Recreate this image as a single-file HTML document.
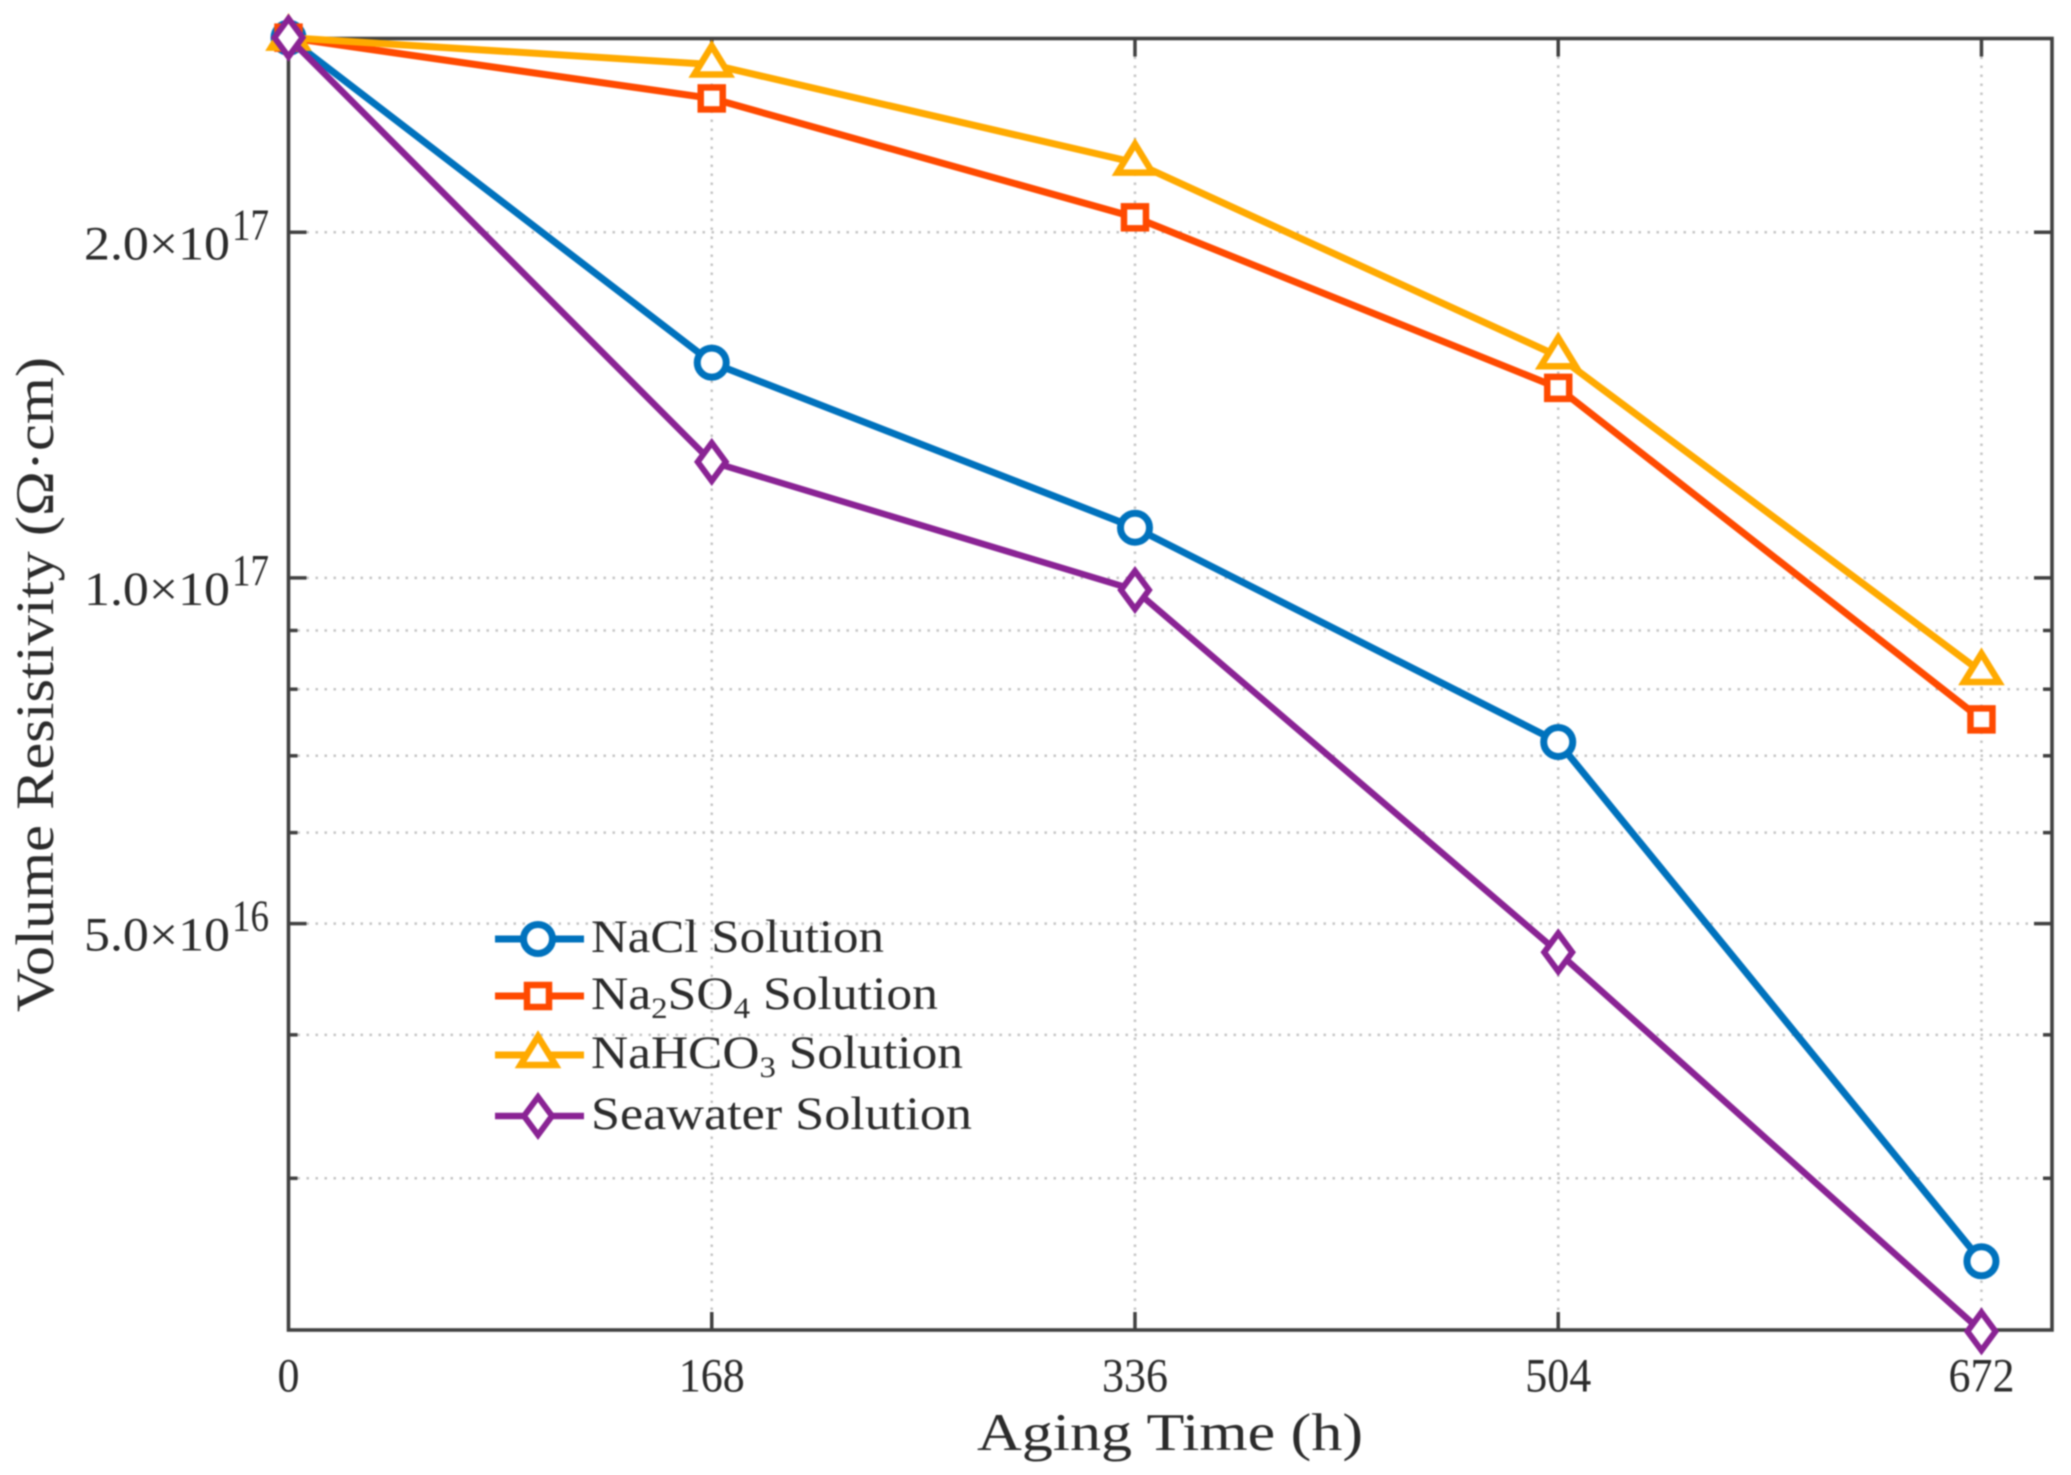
<!DOCTYPE html>
<html lang="en">
<head>
<meta charset="utf-8">
<title>Volume Resistivity vs Aging Time</title>
<style>
html,body{margin:0;padding:0;background:#fff;width:2071px;height:1475px;overflow:hidden}
svg{display:block;filter:blur(0.7px)}
text{font-family:"Liberation Serif",serif;fill:#2b2b2b}
</style>
</head>
<body>
<svg id="chart" xmlns="http://www.w3.org/2000/svg" width="2071" height="1475" viewBox="0 0 2071 1475"></svg>
<script>
const agingHours = [0, 168, 336, 504, 672];
const naclValues = [2.955e17, 1.54e17, 1.106e17, 7.196e16, 2.54e16];
const na2so4Values = [2.955e17, 2.616e17, 2.061e17, 1.464e17, 7.53e16];
const nahco3Values = [2.955e17, 2.80e17, 2.30e17, 1.56e17, 8.28e16];
const seawaterValues = [2.955e17, 1.262e17, 9.76e16, 4.72e16, 2.207e16];
const xTickLabels = ["0", "168", "336", "504", "672"];
const yMajorTicks = [5e16, 1e17, 2e17];
const yMajorMantissas = ["5.0", "1.0", "2.0"];
const yMajorExponents = ["16", "17", "17"];
const yMinorTicks = [3e16, 4e16, 6e16, 7e16, 8e16, 9e16];
const xDomain = [0, 700];
const yDomain = [2.213e16, 2.95e17];

const NS = "http://www.w3.org/2000/svg";
const svg = document.getElementById("chart");
const L = 288.5, R = 2052, T = 38.5, B = 1330;
function xs(v) { return L + (v - xDomain[0]) / (xDomain[1] - xDomain[0]) * (R - L); }
function ys(v) {
  const a = Math.log10(yDomain[0]), b = Math.log10(yDomain[1]);
  return B - (Math.log10(v) - a) / (b - a) * (B - T);
}
function make(tag, attrs, parent) {
  const e = document.createElementNS(NS, tag);
  for (const k in attrs) e.setAttribute(k, attrs[k]);
  (parent || svg).appendChild(e);
  return e;
}
function line(x1, y1, x2, y2, stroke, w, dash, parent) {
  const a = { x1, y1, x2, y2, stroke, "stroke-width": w };
  if (dash) a["stroke-dasharray"] = dash;
  return make("line", a, parent);
}
function marker(kind, x, y, color, parent) {
  let m;
  if (kind === "circle") {
    m = make("circle", { cx: x, cy: y, r: 14.5, fill: "#fff", stroke: color, "stroke-width": 7 }, parent);
  } else if (kind === "square") {
    m = make("rect", { x: x - 11, y: y - 11, width: 22, height: 22, fill: "#fff", stroke: color, "stroke-width": 6.5 }, parent);
  } else if (kind === "triangle") {
    m = make("polygon", { points: `${x},${y - 18.5} ${x + 17.5},${y + 10} ${x - 17.5},${y + 10}`, fill: "#fff", stroke: color, "stroke-width": 6.5 }, parent);
  } else {
    m = make("polygon", { points: `${x},${y - 19} ${x + 14},${y} ${x},${y + 19} ${x - 14},${y}`, fill: "#fff", stroke: color, "stroke-width": 6 }, parent);
  }
  return m;
}

/* grid */
const gridGroup = make("g", {});


const GRID = "#c4c4c4", DASH = "2.5 6.5", AX = "#404040";
xTickLabels.forEach(function (label, i) {
  if (i === 0) return;
  const g = line(xs(agingHours[i]), T, xs(agingHours[i]), B, GRID, 2.5, DASH, gridGroup);
  
  
});
yMajorTicks.concat(yMinorTicks).forEach(function (v) {
  const g = line(L, ys(v), R, ys(v), GRID, 2.5, DASH, gridGroup);
  
  
});

/* ticks */
const tickGroup = make("g", {});


agingHours.forEach(function (v, i) {
  if (i === 0) return;
  const t1 = line(xs(v), B, xs(v), B - 18, AX, 3.5, null, tickGroup);
  
  
  const t2 = line(xs(v), T, xs(v), T + 18, AX, 3.5, null, tickGroup);
  
  
});
yMajorTicks.forEach(function (v) {
  const t1 = line(L, ys(v), L + 18, ys(v), AX, 3.5, null, tickGroup);
  
  
  const t2 = line(R, ys(v), R - 18, ys(v), AX, 3.5, null, tickGroup);
  
  
});
yMinorTicks.forEach(function (v) {
  const t1 = line(L, ys(v), L + 9, ys(v), AX, 3.5, null, tickGroup);
  
  
  const t2 = line(R, ys(v), R - 9, ys(v), AX, 3.5, null, tickGroup);
  
  
});

/* frame */
const frame = make("rect", { x: L, y: T, width: R - L, height: B - T, fill: "none", stroke: AX, "stroke-width": 3.6 });



/* x tick labels */
xTickLabels.forEach(function (label, i) {
  const t = make("text", { x: xs(agingHours[i]), y: 1391.5, "text-anchor": "middle", "font-size": 48, textLength: label.length * 22, lengthAdjust: "spacingAndGlyphs" });
  t.textContent = label;
  
  
});

/* y tick labels */
yMajorTicks.forEach(function (v, i) {
  const y = ys(v) + 27;
  const t = make("text", { x: 84, y: y, "font-size": 48, textLength: 146, lengthAdjust: "spacingAndGlyphs" });
  t.textContent = yMajorMantissas[i] + "\u00d710";
  
  
  const e = make("text", { x: 232, y: y - 20, "font-size": 44, textLength: 37, lengthAdjust: "spacingAndGlyphs" });
  e.textContent = yMajorExponents[i];
  
  
});

/* axis titles */
const xTitle = make("text", { x: 977, y: 1450, "font-size": 53, textLength: 386, lengthAdjust: "spacingAndGlyphs" });
xTitle.textContent = "Aging Time (h)";


const yTitle = make("text", { transform: "translate(53 1012) rotate(-90)", "font-size": 54, textLength: 655, lengthAdjust: "spacingAndGlyphs" });
yTitle.textContent = "Volume Resistivity (\u03a9\u00b7cm)";



/* series */
const seriesDefs = [
  { name: "nacl", values: naclValues, color: "#0072bd", kind: "circle", w: 7 },
  { name: "na2so4", values: na2so4Values, color: "#ff4a00", kind: "square", w: 7 },
  { name: "nahco3", values: nahco3Values, color: "#ffaa00", kind: "triangle", w: 7 },
  { name: "seawater", values: seawaterValues, color: "#8a2394", kind: "diamond", w: 6.5 }
];
seriesDefs.forEach(function (s) {
  const g = make("g", {});
  
  
  const pts = s.values.map(function (v, i) { return xs(agingHours[i]) + "," + ys(v); }).join(" ");
  const pl = make("polyline", { points: pts, fill: "none", stroke: s.color, "stroke-width": s.w, "stroke-linejoin": "round" }, g);
  
  
  s.values.forEach(function (v, i) {
    const m = marker(s.kind, xs(agingHours[i]), ys(v), s.color, g);
    
    
  });
});

/* legend */
const legend = make("g", {});


function legendEntry(def, y, endX, buildLabel) {
  const g = make("g", {}, legend);
  
  
  const l = line(495, y, 584, y, def.color, def.w, null, g);
  
  
  const m = marker(def.kind, 538, y, def.color, g);
  
  
  const t = make("text", { x: 591, y: y + 13, "font-size": 47, textLength: endX - 591, lengthAdjust: "spacingAndGlyphs" }, g);
  
  
  buildLabel(t);
}
function sub(t, s) {
  const sp = make("tspan", { dy: 9, "font-size": 30 }, t);
  sp.textContent = s;
  const back = make("tspan", { dy: -9 }, t);
  return back;
}
legendEntry(seriesDefs[0], 939, 884, function (t) { t.textContent = "NaCl Solution"; });
legendEntry(seriesDefs[1], 996, 938, function (t) {
  t.appendChild(document.createTextNode("Na"));
  const b1 = sub(t, "2");
  b1.textContent = "SO";
  const b2 = sub(t, "4");
  b2.textContent = " Solution";
});
legendEntry(seriesDefs[2], 1055, 963, function (t) {
  t.appendChild(document.createTextNode("NaHCO"));
  const b = sub(t, "3");
  b.textContent = " Solution";
});
legendEntry(seriesDefs[3], 1116, 972, function (t) { t.textContent = "Seawater Solution"; });
</script>
</body>
</html>
